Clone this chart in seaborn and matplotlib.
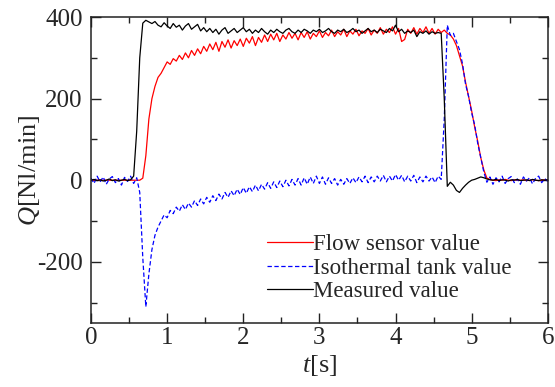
import numpy as np
import pandas as pd
import matplotlib
matplotlib.use("Agg")
import matplotlib.pyplot as plt
import seaborn as sns

# time axis, 0.04 s steps
t = np.round(np.arange(0, 6.001, 0.04), 2)

names = ["Flow sensor value", "Isothermal tank value", "Measured value"]

flow = [0, 0, 0, 0, 0, 0, 0, 0, 0, 0,
        0, 0, 0, 0, 0, 0, 0, 5, 60, 150,
        200, 230, 252, 262, 276, 290, 284, 298, 292, 306,
        296, 312, 300, 318, 306, 322, 310, 328, 316, 334,
        320, 338, 316, 340, 326, 344, 324, 342, 330, 346,
        328, 348, 336, 352, 330, 350, 338, 356, 340, 358,
        344, 360, 340, 356, 346, 362, 348, 360, 344, 362,
        350, 364, 346, 360, 352, 366, 350, 362, 354, 368,
        352, 364, 356, 370, 352, 366, 358, 370, 354, 366,
        360, 372, 356, 368, 360, 374, 358, 370, 362, 376,
        358, 372, 340, 345, 370, 360, 374, 358, 372, 362,
        376, 360, 372, 358, 370, 362, 368, 360, 356, 346,
        330, 305, 280, 240, 205, 170, 130, 95, 55, 25,
        5, 2, 0, -1, 1, 0, 2, 0, -1, 1,
        0, 0, 1, -1, 0, 1, 0, -1, 0, 1,
        0]

tank = [5, -8, 10, -4, 8, -10, 3, 9, -6, 4,
        -12, 7, -3, 10, -8, 6, -30, -190, -310, -230,
        -170, -135, -115, -100, -85, -92, -74, -82, -66, -76,
        -60, -72, -56, -66, -50, -62, -46, -58, -42, -54,
        -38, -50, -34, -46, -30, -42, -26, -38, -22, -35,
        -18, -32, -16, -28, -12, -26, -10, -22, -6, -20,
        -4, -18, -2, -16, 0, -14, 2, -12, 4, -12,
        6, -10, 8, -8, 10, -8, 8, -10, 6, -8,
        4, -12, 2, -10, 4, -8, 6, -6, 8, -4,
        10, -6, 8, -4, 10, -2, 12, -4, 10, -2,
        14, 0, 12, -4, 10, -2, 12, -6, 8, -4,
        10, -2, 8, -6, 10, 2, 150, 380, 355, 360,
        340, 320, 285, 235, 205, 165, 135, 90, 55, 20,
        -5, 8, -10, 6, -4, 10, -8, 4, 9, -6,
        3, -10, 8, -2, 6, -9, 5, 10, -6, 4,
        -3]

measured = [0, 2, -1, 1, -2, 0, 3, -1, 1, -2,
            0, 2, -1, 1, 10, 120, 300, 385, 392, 388,
            384, 389, 380, 376, 386, 378, 372, 384, 375, 380,
            368, 378, 384, 370, 376, 382, 366, 374, 364, 372,
            362, 370, 358, 368, 374, 360, 366, 372, 362, 368,
            374, 364, 370, 360, 368, 362, 372, 364, 358, 368,
            362, 370, 364, 360, 368, 372, 364, 360, 368, 362,
            370, 366, 360, 368, 364, 370, 362, 366, 372, 364,
            360, 368, 364, 370, 362, 366, 372, 364, 368, 360,
            366, 372, 364, 368, 362, 370, 366, 362, 372, 366,
            380, 364, 370, 360, 366, 362, 368, 352, 364, 360,
            366, 358, 364, 360, 362, 360, 200, -15, -5, -12,
            -25, -30, -20, -12, -5, 0, 2, 5, 8, 6,
            3, 1, 0, 2, -1, 1, 0, -2, 1, 0,
            2, -1, 0, 1, -1, 2, 0, -1, 1, 0,
            1]

df = pd.DataFrame({
    "t": np.tile(t, 3),
    "Q": np.concatenate([flow, tank, measured]),
    "series": np.repeat(names, len(t)),
})

sns.set_style("ticks", {"xtick.direction": "in", "ytick.direction": "in"})
plt.rcParams["font.family"] = ["Liberation Serif", "DejaVu Serif"]
plt.rcParams["mathtext.fontset"] = "custom"
plt.rcParams["mathtext.it"] = "Liberation Serif:italic"
plt.rcParams["mathtext.rm"] = "Liberation Serif"
plt.rcParams["axes.unicode_minus"] = False

fig = plt.figure(figsize=(5.55, 3.87), dpi=100)
ax = fig.add_axes([0.164, 0.1654, 0.823, 0.7906])

palette = {names[0]: "red", names[1]: "blue", names[2]: "black"}
dashes = {names[0]: "", names[1]: (3.5, 2), names[2]: ""}
sns.lineplot(data=df, x="t", y="Q", hue="series", style="series",
             hue_order=names, style_order=names, palette=palette,
             dashes=dashes, estimator=None, linewidth=0.9, legend=False, ax=ax)

ax.set_xlim(0, 6)
ax.set_ylim(-350, 400)
ax.set_xticks(np.arange(0, 7, 1))
ax.set_xticks(np.arange(0, 6.01, 0.5), minor=True)
ax.set_yticks([-200, 0, 200, 400])
ax.set_yticks(np.arange(-300, 401, 100), minor=True)
ax.tick_params(which="both", direction="in", top=True, right=True,
               labelsize=18, width=1.0, color="#222222")
ax.tick_params(which="major", length=7)
ax.tick_params(which="minor", length=4)
ax.tick_params(axis="x", pad=3)
ax.tick_params(axis="y", pad=6)
for s in ax.spines.values():
    s.set_linewidth(1.1)
    s.set_color("#222222")

ax.set_xlabel("$t$[s]", fontsize=19, labelpad=3)
ax.set_ylabel("$Q$[Nl/min]", fontsize=19, labelpad=-3.5)

ax.legend(ax.lines[:3], names, loc="upper left", bbox_to_anchor=(0.386, 0.29),
          frameon=False, fontsize=16.5, handlelength=2.0, handletextpad=0.0,
          labelspacing=0.1, borderpad=0, borderaxespad=0)

plt.savefig("out.png", dpi=100)
